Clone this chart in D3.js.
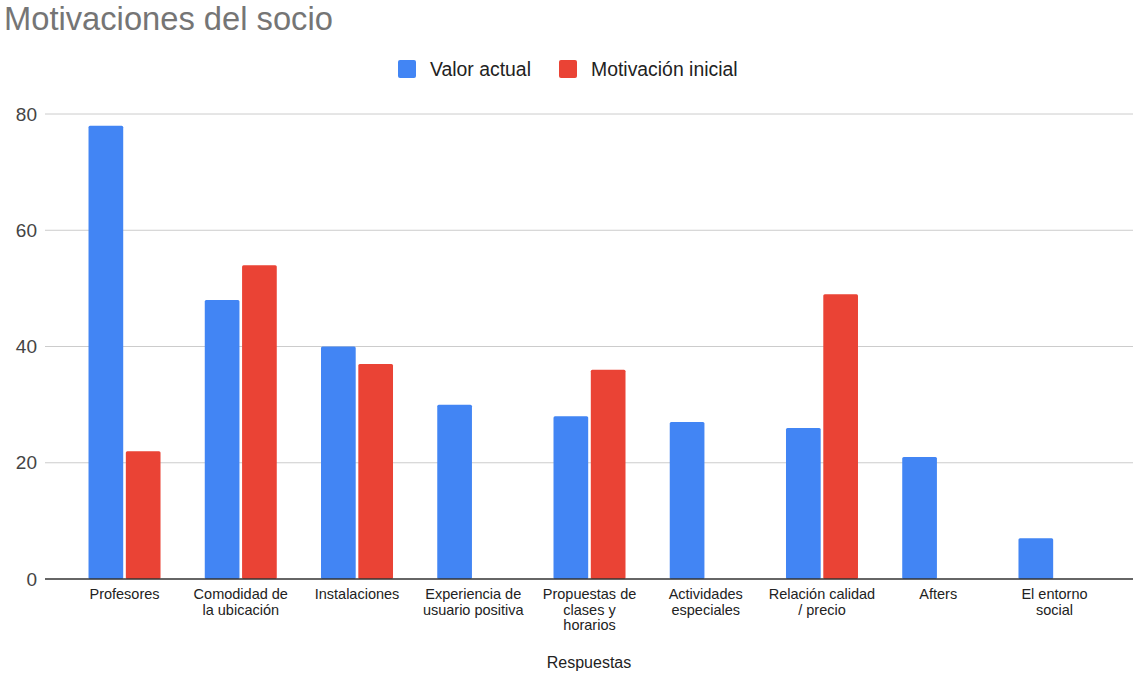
<!DOCTYPE html>
<html>
<head>
<meta charset="utf-8">
<script src="https://cdn.jsdelivr.net/npm/d3@7"></script>
<style>
  body { margin: 0; background: #fff; }
  svg { font-family: "Liberation Sans", Arial, sans-serif; }
</style>
</head>
<body>
<script>
// data
let categories = ["Profesores", "Comodidad de|la ubicación", "Instalaciones", "Experiencia de|usuario positiva",
  "Propuestas de|clases y|horarios", "Actividades|especiales", "Relación calidad|/ precio", "Afters", "El entorno|social"];
let seriesNames = ["Valor actual", "Motivación inicial"];
let valorActual = [78, 48, 40, 30, 28, 27, 26, 21, 7];
let motivacionInicial = [22, 54, 37, 0, 36, 0, 49, 0, 0];
let yTicks = [0, 20, 40, 60, 80];
let colors = ["#4285f4", "#ea4335"];

let width = 1137,
  height = 675;

let svg = d3.select("body").append("svg")
  .attr("width", width)
  .attr("height", height);

let x0 = d3.scaleBand()
  .domain(categories)
  .range([66.4, 1112.6])
  .padding(0);

let x1 = d3.scaleBand()
  .domain(seriesNames)
  .range([x0.bandwidth() / 2 - 36, x0.bandwidth() / 2 + 36])
  .paddingInner(0.07);

let y = d3.scaleLinear()
  .domain([0, 80])
  .range([579, 114]);

// title
svg.append("text")
  .attr("x", 4)
  .attr("y", 30)
  .attr("font-size", 32.7)
  .attr("fill", "#757575")
  .text("Motivaciones del socio");

// gridlines + y labels
let yAxis = svg.append("g").attr("class", "y axis");
yAxis.selectAll("line")
  .data(yTicks.filter(d => d > 0))
  .enter().append("line")
  .attr("x1", 45)
  .attr("x2", 1133)
  .attr("y1", d => y(d))
  .attr("y2", d => y(d))
  .attr("stroke", "#cccccc")
  .attr("stroke-width", 1);

yAxis.selectAll("text")
  .data(yTicks)
  .enter().append("text")
  .attr("x", 37)
  .attr("y", d => y(d))
  .attr("dy", ".35em")
  .attr("text-anchor", "end")
  .attr("font-size", 19)
  .attr("fill", "#444")
  .text(d => d);

// bars
let rows = categories.map((c, i) => ({ cat: c, values: [valorActual[i], motivacionInicial[i]] }));

let groups = svg.append("g")
  .selectAll("g")
  .data(rows)
  .enter().append("g")
  .attr("transform", d => `translate(${x0(d.cat)},0)`);

groups.selectAll("rect")
  .data(d => d.values.map((v, j) => ({ name: seriesNames[j], value: v, color: colors[j] })))
  .enter().append("rect")
  .filter(d => d.value > 0)
  .attr("x", d => x1(d.name))
  .attr("width", x1.bandwidth())
  .attr("y", d => y(d.value))
  .attr("height", d => y(0) - y(d.value))
  .attr("rx", 1.5)
  .attr("fill", d => d.color);

// baseline
svg.append("line")
  .attr("x1", 45)
  .attr("x2", 1133)
  .attr("y1", y(0))
  .attr("y2", y(0))
  .attr("stroke", "#333")
  .attr("stroke-width", 1.5);

// x labels
let xLabels = svg.append("g").attr("class", "x axis")
  .selectAll("text")
  .data(categories)
  .enter().append("text")
  .attr("text-anchor", "middle")
  .attr("font-size", 14.5)
  .attr("fill", "#222")
  .attr("transform", d => `translate(${x0(d) + x0.bandwidth() / 2},599)`);

xLabels.selectAll("tspan")
  .data(d => d.split("|"))
  .enter().append("tspan")
  .attr("x", 0)
  .attr("y", (d, i) => i * 15.5)
  .text(d => d);

svg.append("text")
  .attr("x", 589)
  .attr("y", 668)
  .attr("text-anchor", "middle")
  .attr("font-size", 16)
  .attr("fill", "#222")
  .text("Respuestas");

// legend
let legendPos = [398, 559];
let legend = svg.append("g")
  .selectAll("g")
  .data(seriesNames)
  .enter().append("g")
  .attr("transform", (d, i) => `translate(${legendPos[i]},60)`);

legend.append("rect")
  .attr("width", 18)
  .attr("height", 18)
  .attr("rx", 2)
  .attr("fill", (d, i) => colors[i]);

legend.append("text")
  .attr("x", 32)
  .attr("y", 9)
  .attr("dy", ".35em")
  .attr("font-size", 19.4)
  .attr("fill", "#222")
  .text(d => d);
</script>
</body>
</html>
